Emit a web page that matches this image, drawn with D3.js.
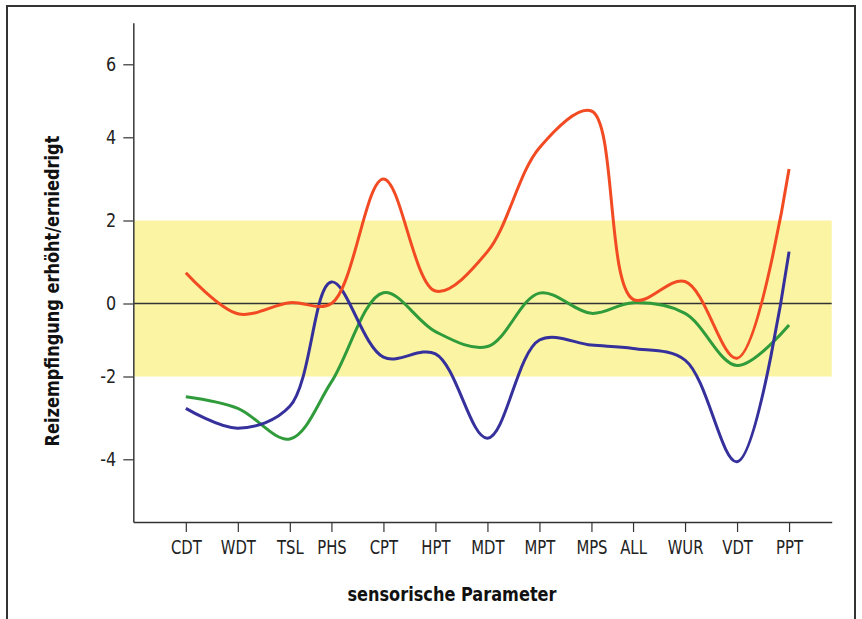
<!DOCTYPE html>
<html>
<head>
<meta charset="utf-8">
<script src="https://cdn.jsdelivr.net/npm/d3@7"></script>
<style>
	body { margin: 0; background: #fff; }
	text { font-family: "DejaVu Sans", sans-serif; }
</style>
</head>
<body>
<div id="chart"></div>
<script>
// sensorische Parameter (QST) und ihre Lage auf der x-Achse (Einheiten)
var categories = ['CDT', 'WDT', 'TSL', 'PHS', 'CPT', 'HPT', 'MDT', 'MPT', 'MPS', 'ALL', 'WUR', 'VDT', 'PPT'];
var catPos = [0, 1, 2, 2.8, 3.8, 4.8, 5.8, 6.8, 7.8, 8.6, 9.6, 10.6, 11.6];

// z-Werte je Patient
var redValues = [0.74, -0.28, 0.02, 0.0, 3.0, 0.3, 1.25, 3.75, 4.72, 0.1, 0.53, -1.5, 3.24];
var blueValues = [-2.77, -3.25, -2.72, 0.52, -1.47, -1.38, -3.49, -1.0, -1.14, -1.23, -1.55, -4.06, 1.25];
var greenValues = [-2.49, -2.77, -3.51, -2.13, 0.26, -0.77, -1.18, 0.25, -0.27, 0.02, -0.27, -1.7, -0.59];

var yTicks = [-4, -2, 0, 2, 4, 6];
var normalRange = [-2, 2];

var colors = {red: '#f24a23', blue: '#35309b', green: '#2f9b3b'};

// no condensed face installed, so squeeze the glyphs a little
function condense(sel, factor) {
	sel.each(function() {
		var len = this.getComputedTextLength();
		d3.select(this)
			.attr('textLength', len * factor)
			.attr('lengthAdjust', 'spacingAndGlyphs');
	});
}

function createLineChart(elementName) {
	var width = 862;
	var height = 619;

	var svg = d3.select(elementName)
		.append('svg')
		.attr('width', width)
		.attr('height', height);

	// Rahmen
	svg.append('path')
		.attr('d', 'M7,619 V6 H855 V619')
		.style('fill', 'none')
		.style('stroke', '#333')
		.style('stroke-width', 2);

	var xscale = d3.scaleLinear().domain([-1.01, 12.42]).range([133.3, 831.7]);
	// the printed axis is not quite even, so the scale follows its ticks
	var yscale = d3.scaleLinear()
		.domain([-5.51, -4, -2, 0, 2, 4, 6, 7.14])
		.range([522, 459.3, 376.5, 303.5, 220.5, 137.3, 64.3, 22.7]);

	// Normbereich
	svg.append('rect')
		.attr('x', xscale(-1.01))
		.attr('y', yscale(normalRange[1]))
		.attr('width', xscale(12.42) - xscale(-1.01))
		.attr('height', yscale(normalRange[0]) - yscale(normalRange[1]))
		.style('fill', '#fbf4a3');

	svg.append('line')
		.attr('x1', xscale(-1.01))
		.attr('x2', xscale(12.42))
		.attr('y1', yscale(0))
		.attr('y2', yscale(0))
		.style('stroke', '#333')
		.style('stroke-width', 1.5);

	var vaxis = d3.axisLeft().scale(yscale).tickValues(yTicks)
		.tickSizeInner(10).tickSizeOuter(0).tickPadding(7)
		.tickFormat(function(d) { return String(d); });
	var vguide = svg.append('g');
	vaxis(vguide);
	vguide.attr('transform', 'translate(' + xscale(-1.01) + ', 0)');
	vguide.select('.domain').style('stroke', '#444').style('stroke-width', 1.6);
	vguide.selectAll('line').style('stroke', '#333').style('stroke-width', 1.2);
	vguide.selectAll('text').style('font-size', '20px').style('fill', '#222')
		.style('font-family', null)
		.call(condense, 0.8);

	var haxis = d3.axisBottom().scale(xscale).tickValues(catPos)
		.tickSizeInner(10).tickSizeOuter(0).tickPadding(9)
		.tickFormat(function(d, i) { return categories[i]; });
	var hguide = svg.append('g');
	haxis(hguide);
	hguide.attr('transform', 'translate(0, ' + yscale(-5.51) + ')');
	hguide.select('.domain').style('stroke', '#333').style('stroke-width', 1.6);
	hguide.selectAll('line').style('stroke', '#333').style('stroke-width', 1.2);
	hguide.selectAll('text').style('font-size', '19px').style('fill', '#222')
		.style('font-family', null)
		.call(condense, 0.78);

	var line = d3.line()
		.x(function(d, i) { return xscale(catPos[i]); })
		.y(function(d) { return yscale(d); })
		.curve(d3.curveCatmullRom.alpha(0.5));

	[[greenValues, colors.green], [blueValues, colors.blue], [redValues, colors.red]].forEach(function(s) {
		svg.append('path')
			.datum(s[0])
			.attr('d', line)
			.style('fill', 'none')
			.style('stroke', s[1])
			.style('stroke-width', 3);
	});

	svg.append('text')
		.attr('x', 452)
		.attr('y', 601)
		.attr('text-anchor', 'middle')
		.style('font-size', '19px')
		.style('font-weight', 'bold')
		.style('fill', '#111')
		.text('sensorische Parameter')
		.call(condense, 0.85);

	svg.append('text')
		.attr('transform', 'translate(59, 291) rotate(-90)')
		.attr('text-anchor', 'middle')
		.style('font-size', '19px')
		.style('font-weight', 'bold')
		.style('fill', '#111')
		.text('Reizempfingung erhöht/erniedrigt')
		.call(condense, 0.85);
}

createLineChart('#chart');
</script>
</body>
</html>
